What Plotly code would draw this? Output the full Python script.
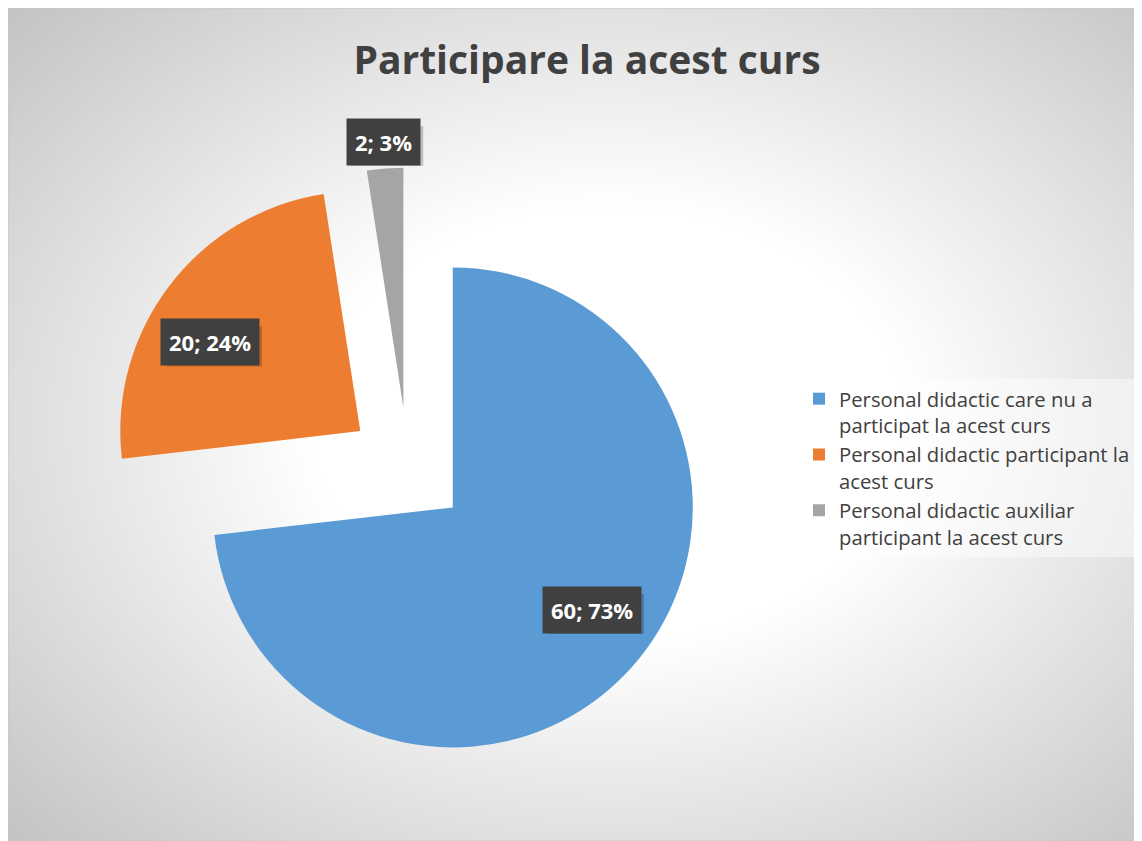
import base64
import math
import plotly.graph_objects as go

# ---- data ----
categories = [
    "Personal didactic care nu a participat la acest curs",
    "Personal didactic participant la acest curs",
    "Personal didactic auxiliar participant la acest curs",
]
legend_labels = [
    "Personal didactic care nu a<br>participat la acest curs",
    "Personal didactic participant la<br>acest curs",
    "Personal didactic auxiliar<br>participant la acest curs",
]
values = [60, 20, 2]
percent_labels = ["73%", "24%", "3%"]
colors = ["#5B9BD5", "#ED7D31", "#A5A5A5"]
title_text = "Participare la acest curs"

W, H = 1134, 833
PULL = 0.25
dom_x = [0.08818, 0.61728]
dom_y = [0.08824, 0.80853]
FONT = "Open Sans"

fig = go.Figure()
fig.add_trace(go.Pie(
    labels=legend_labels,
    values=values,
    sort=False,
    direction="clockwise",
    rotation=0,
    pull=[PULL] * len(values),
    marker=dict(colors=colors, line=dict(width=0)),
    textinfo="none",
    customdata=categories,
    hovertemplate="%{customdata}<br>%{value}<extra></extra>",
    domain=dict(x=dom_x, y=dom_y),
))

# label boxes positioned from slice geometry (same formula plotly uses for pies)
box_w = W * (dom_x[1] - dom_x[0])
box_h = H * (dom_y[1] - dom_y[0])
R = min(box_w, box_h) / 2 / (1 + PULL)
cx = W * (dom_x[0] + dom_x[1]) / 2
cy = H * (1 - dom_y[0]) - box_h / 2
label_r = [0.72, 0.725, 1.11]
label_nudge = [-4.0, -5.0, 0.0]
total = sum(values)
cum = 0
annotations = []
shapes = [dict(type="rect", xref="paper", yref="paper", x0=0, y0=0, x1=1, y1=1,
               line=dict(color="#C8C8C8", width=1), fillcolor="rgba(0,0,0,0)", layer="below")]
for i, v in enumerate(values):
    mid = (cum + v / 2) / total * 360 + label_nudge[i]
    cum += v
    th = math.radians(mid)
    d = (PULL + label_r[i]) * R
    px = cx + d * math.sin(th)
    py = cy - d * math.cos(th)
    txt = f"{v}; {percent_labels[i]}"
    # soft drop shadow behind the label box
    bw = 11.5 * len(txt) + 15
    bh = 40
    shapes.append(dict(type="rect", xref="paper", yref="paper",
                       xsizemode="pixel", ysizemode="pixel",
                       xanchor=px / W, yanchor=1 - py / H,
                       x0=-bw / 2 + 4, x1=bw / 2 + 4, y0=-bh / 2 - 4, y1=bh / 2 - 4,
                       fillcolor="rgba(0,0,0,0.2)", line=dict(width=0), layer="above"))
    annotations.append(dict(xref="paper", yref="paper", x=px / W, y=1 - py / H,
                            xanchor="center", yanchor="middle", showarrow=False,
                            borderpad=8, text=txt, bgcolor="#404040",
                            font=dict(family=FONT, size=22, color="#FFFFFF", weight="bold")))

# radial gradient background (chart area)
svg = (
    '<svg xmlns="http://www.w3.org/2000/svg" width="1134" height="833" viewBox="0 0 1134 833" '
    'preserveAspectRatio="none"><defs><radialGradient id="g" cx="0.53" cy="0.5" r="0.72">'
    '<stop offset="0" stop-color="#ffffff"/><stop offset="0.36" stop-color="#ffffff"/>'
    '<stop offset="1" stop-color="#c4c4c4"/></radialGradient></defs>'
    '<rect width="1134" height="833" fill="url(#g)"/></svg>'
)
src = "data:image/svg+xml;base64," + base64.b64encode(svg.encode()).decode()

fig.update_layout(
    width=W, height=H,
    margin=dict(l=0, r=0, t=0, b=0),
    paper_bgcolor="#FFFFFF",
    images=[dict(source=src, xref="paper", yref="paper", x=0, y=1,
                 sizex=1, sizey=1, xanchor="left", yanchor="top",
                 sizing="stretch", layer="below")],
    shapes=shapes,
    title=dict(text=title_text, x=579 / W, xanchor="center", y=1 - 52 / H, yanchor="middle",
               font=dict(family=FONT, size=39, color="#404040", weight="bold")),
    legend=dict(x=791 / W, y=1 - 460 / H, xanchor="left", yanchor="middle", valign="top",
                bgcolor="rgba(255,255,255,0.45)", borderwidth=0,
                font=dict(family=FONT, size=20.3, color="#404040"),
                itemclick=False, itemdoubleclick=False),
    annotations=annotations,
    showlegend=True,
)

fig.write_html("out.html")
